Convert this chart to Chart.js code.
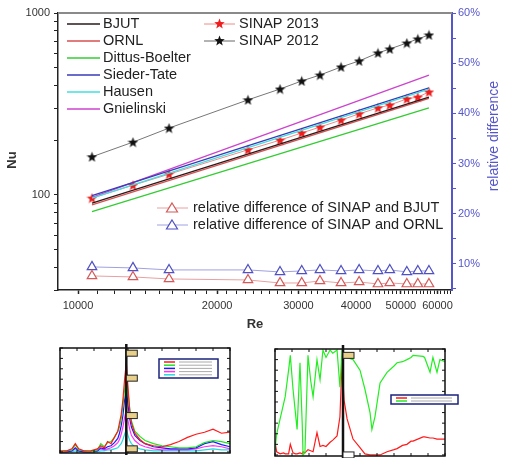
<!DOCTYPE html>
<html>
<head>
<meta charset="utf-8">
<script src="https://cdn.jsdelivr.net/npm/chart.js@4.4.1/dist/chart.umd.min.js"></script>
<style>
  body { margin: 0; background: #fff; }
  .box { position: absolute; }
</style>
</head>
<body>
<div class="box" style="left:0;top:0;width:510px;height:335px"><canvas id="main"></canvas></div>
<div class="box" style="left:40px;top:338px;width:210px;height:120px"><canvas id="inset1"></canvas></div>
<div class="box" style="left:260px;top:338px;width:210px;height:120px"><canvas id="inset2"></canvas></div>
<script>
// Reynolds numbers of the measured points
const re = [10720, 13150, 15740, 23330, 27370, 30500, 33400, 37100, 40600, 44600, 47300, 51500, 54400, 57500];
const sinap2013 = [96, 113, 130, 177, 200, 219, 236, 258, 279, 301, 312, 337, 345, 368];
const sinap2012 = [162, 195, 233, 333, 382, 423, 456, 505, 545, 603, 634, 684, 720, 757];
// correlations, value at first and last Re
const lineRe = [10720, 57500];
const bjut = [90, 345];
const ornl = [88, 339];
const dittus = [81, 301];
const sieder = [99, 387];
const hausen = [96, 382];
const gniel = [97, 456];
// relative differences (%)
const diffBjut = [7.6, 7.4, 7.0, 6.8, 6.2, 6.2, 6.6, 6.2, 6.4, 6.0, 6.2, 6.0, 6.0, 6.0];
const diffOrnl = [9.4, 9.2, 8.8, 8.8, 8.4, 8.6, 8.8, 8.6, 8.8, 8.6, 8.8, 8.4, 8.6, 8.6];
const nuTicks = [30, 40, 50, 60, 70, 80, 90, 100, 200, 300, 400, 500, 600, 700, 800, 900, 1000];
const nuLabels = [100, 1000];
const reLabels = [10000, 20000, 30000, 40000, 50000, 60000];
const pctLabels = [10, 20, 30, 40, 50, 60];

// small thumbnails under the main chart
const ix1 = [0, 4, 7, 9, 11, 14, 18, 22, 24, 26, 28, 30, 32, 34, 35, 36, 37, 38, 39, 40, 41, 42, 44, 47, 50, 55, 60, 65, 70, 75, 80, 85, 90, 95, 100];
const s1Red = [1, 1, 3, 8, 3, 1, 1, 3, 6, 4, 10, 8, 14, 20, 28, 36, 50, 70, 86, 62, 40, 28, 18, 12, 8, 6, 5, 7, 10, 14, 17, 19, 22, 18, 19];
const s1Green = [0, 1, 2, 7, 2, 1, 0, 2, 8, 5, 9, 10, 14, 20, 24, 32, 45, 60, 77, 58, 42, 30, 20, 15, 11, 8, 6, 5, 4, 4, 5, 9, 11, 10, 8];
const s1Blue = [0, 0, 1, 4, 1, 0, 0, 1, 4, 3, 5, 6, 9, 13, 18, 25, 35, 50, 60, 45, 32, 24, 16, 11, 8, 5, 4, 3, 3, 3, 4, 8, 10, 7, 5];
const s1Magenta = [0, 0, 1, 3, 1, 0, 0, 1, 3, 2, 3, 4, 6, 9, 12, 17, 24, 33, 41, 30, 22, 16, 11, 7, 5, 3, 2, 2, 2, 2, 3, 5, 6, 5, 3];
const s1Cyan = [0, 0, 0, 1, 0, 0, 0, 0, 1, 1, 2, 2, 3, 4, 6, 8, 12, 17, 22, 16, 11, 8, 5, 3, 2, 1, 1, 1, 1, 1, 1, 2, 3, 2, 2];
const ix2 = [0, 1, 3, 5, 6, 8, 9, 10.6, 12, 13, 14.7, 16, 16.5, 17.6, 19.4, 21, 22.4, 24.7, 26.5, 28.2, 30, 32.4, 34, 36.5, 38.2, 39.4, 40, 40.6, 42.4, 45.9, 50, 52.9, 55.9, 57, 58.8, 61.8, 65.9, 70, 71.8, 75, 77.6, 80, 81.2, 87.1, 88, 91.2, 92.9, 95.3, 97, 100];
const s2Green = [5, 20, 34, 48, 55, 80, 94, 62, 40, 24, 87, 30, 0, 2, 94, 70, 55, 90, 71, 99, 92, 99, 96, 99, 64, 99, 99, 96, 92, 90, 80, 62, 40, 24, 36, 68, 78, 84, 87, 88, 90, 92, 94, 93, 92, 78, 92, 78, 90, 88];
const s2Red = [12, 3, 1, 2, 1, 1, 10, 2, 1, 1, 2, 1, 3, 2, 5, 4, 3, 21, 8, 9, 8, 12, 14, 18, 36, 87, 70, 52, 34, 15, 7, 1, 0, 0, 0, 0, 3, 5, 6, 9, 10, 13, 13, 17, 17, 16, 16, 15, 15, 15];

function starImage(color, size) {
  const c = document.createElement('canvas');
  c.width = size; c.height = size;
  const g = c.getContext('2d');
  g.fillStyle = color;
  g.beginPath();
  for (let i = 0; i < 10; i++) {
    const r = i % 2 ? size * 0.21 : size * 0.5;
    const a = -Math.PI / 2 + i * Math.PI / 5;
    g.lineTo(size / 2 + r * Math.cos(a), size * 0.54 + r * Math.sin(a));
  }
  g.closePath();
  g.fill();
  return c;
}
const redStar = starImage('#ee1c1c', 11);
const blackStar = starImage('#111', 11);

const pts = (xs, ys) => xs.map((x, i) => ({ x: x, y: ys[i] }));
const BLUE = '#5656cc';
const LEG_FONT = '14.5px "Liberation Sans", Arial, sans-serif';

function corr(label, data, color) {
  return { label: label, data: pts(lineRe, data), borderColor: color, borderWidth: 1.3, pointRadius: 0, yAxisID: 'y' };
}

const legendPlugin = {
  id: 'legendAndTitles',
  afterDraw(chart) {
    const c = chart.ctx;
    const a = chart.chartArea;
    c.save();
    // top frame line
    c.strokeStyle = '#8a8a8a';
    c.lineWidth = 2;
    c.beginPath(); c.moveTo(a.left, a.top); c.lineTo(a.right, a.top); c.stroke();

    c.font = LEG_FONT;
    c.textBaseline = 'middle';
    const col1 = [['BJUT', '#2a1a1a'], ['ORNL', '#d95050'], ['Dittus-Boelter', '#33cc33'], ['Sieder-Tate', '#3a3ab8'], ['Hausen', '#44dede'], ['Gnielinski', '#cc44cc']];
    col1.forEach((r, i) => {
      const y = 24 + i * 17;
      c.strokeStyle = r[1]; c.lineWidth = 1.5;
      c.beginPath(); c.moveTo(67, y); c.lineTo(100, y); c.stroke();
      c.fillStyle = '#222';
      c.fillText(r[0], 103, y);
    });
    const col2 = [['SINAP 2013', '#f08a8a', redStar], ['SINAP 2012', '#666', blackStar]];
    col2.forEach((r, i) => {
      const y = 24 + i * 17;
      c.strokeStyle = r[1]; c.lineWidth = 1;
      c.beginPath(); c.moveTo(204, y); c.lineTo(235, y); c.stroke();
      c.drawImage(r[2], 219.5 - 5.5, y - 6);
      c.fillStyle = '#222';
      c.fillText(r[0], 239, y);
    });
    const col3 = [['relative difference of SINAP and BJUT', '#e8a0a0', '#d45a5a'], ['relative difference of SINAP and ORNL', '#a0a0e0', '#5050c4']];
    col3.forEach((r, i) => {
      const y = 208 + i * 17;
      c.strokeStyle = r[1]; c.lineWidth = 1;
      c.beginPath(); c.moveTo(157, y); c.lineTo(188, y); c.stroke();
      c.strokeStyle = r[2]; c.fillStyle = '#fff'; c.lineWidth = 1.2;
      c.beginPath(); c.moveTo(172, y - 5); c.lineTo(177.5, y + 4); c.lineTo(166.5, y + 4); c.closePath();
      c.fill(); c.stroke();
      c.fillStyle = '#222';
      c.fillText(r[0], 193, y);
    });

    // axis titles
    c.font = 'bold 13px "Liberation Sans", Arial, sans-serif';
    c.fillStyle = '#333';
    c.textAlign = 'center';
    c.fillText('Re', 255, 324);
    c.save(); c.translate(12, 160); c.rotate(-Math.PI / 2); c.fillText('Nu', 0, 0); c.restore();
    c.font = '14px "Liberation Sans", Arial, sans-serif';
    c.fillStyle = BLUE;
    c.save(); c.translate(494, 136); c.rotate(-Math.PI / 2); c.fillText('relative difference', 0, 0); c.restore();
    c.restore();
  }
};

new Chart(document.getElementById('main'), {
  type: 'line',
  data: {
    datasets: [
      corr('BJUT', bjut, '#2a1a1a'),
      corr('ORNL', ornl, '#d95050'),
      corr('Dittus-Boelter', dittus, '#33cc33'),
      corr('Hausen', hausen, '#44dede'),
      corr('Sieder-Tate', sieder, '#3a3ab8'),
      corr('Gnielinski', gniel, '#cc44cc'),
      { label: 'SINAP 2013', data: pts(re, sinap2013), borderColor: '#f08a8a', borderWidth: 1, pointStyle: redStar, pointRadius: 5, yAxisID: 'y' },
      { label: 'SINAP 2012', data: pts(re, sinap2012), borderColor: '#777', borderWidth: 1, pointStyle: blackStar, pointRadius: 5, yAxisID: 'y' },
      { label: 'relative difference of SINAP and BJUT', data: pts(re, diffBjut), borderColor: '#e8a0a0', borderWidth: 1, pointStyle: 'triangle', pointRadius: 5.5, pointBorderColor: '#d45a5a', pointBackgroundColor: '#fff', pointBorderWidth: 1.2, yAxisID: 'y2' },
      { label: 'relative difference of SINAP and ORNL', data: pts(re, diffOrnl), borderColor: '#a0a0e0', borderWidth: 1, pointStyle: 'triangle', pointRadius: 5.5, pointBorderColor: '#5050c4', pointBackgroundColor: '#fff', pointBorderWidth: 1.2, yAxisID: 'y2' }
    ]
  },
  options: {
    responsive: true,
    maintainAspectRatio: false,
    animation: false,
    layout: { padding: { top: 13, left: 0, right: 0, bottom: 0 } },
    plugins: { legend: { display: false }, tooltip: { enabled: false } },
    scales: {
      x: {
        type: 'logarithmic', min: 9050, max: 64500,
        afterBuildTicks: s => { const t = []; for (let v = 10000; v <= 64000; v += 1000) t.push({ value: v }); s.ticks = t; },
        afterFit: s => { s.height = 45; },
        grid: { drawOnChartArea: false, tickLength: 4, tickColor: '#222', tickWidth: c => reLabels.includes(c.tick && c.tick.value) ? 1.5 : 1 },
        border: { color: '#222', width: 1.5 },
        ticks: { autoSkip: false, maxRotation: 0, padding: 5, color: '#333', font: { size: 11, family: '"Liberation Sans", Arial, sans-serif' },
          callback: v => reLabels.includes(v) ? String(v) : '' }
      },
      y: {
        type: 'logarithmic', position: 'left', min: 30, max: 1000,
        afterBuildTicks: s => { s.ticks = nuTicks.map(v => ({ value: v })); },
        afterFit: s => { s.width = 58; },
        grid: { drawOnChartArea: false, tickLength: 4, tickColor: '#222' },
        border: { color: '#222', width: 1.5 },
        ticks: { autoSkip: false, padding: 4, color: '#333', font: { size: 11, family: '"Liberation Sans", Arial, sans-serif' },
          callback: v => nuLabels.includes(v) ? String(v) : '' }
      },
      y2: {
        type: 'linear', position: 'right', min: 4.8, max: 60,
        afterBuildTicks: s => { const t = []; for (let v = 5; v <= 60; v += 5) t.push({ value: v }); s.ticks = t; },
        afterFit: s => { s.width = 58; },
        grid: { drawOnChartArea: false, tickLength: 4, tickColor: BLUE },
        border: { color: BLUE, width: 2 },
        ticks: { autoSkip: false, padding: 2, color: BLUE, font: { size: 11, family: '"Liberation Sans", Arial, sans-serif' },
          callback: v => pctLabels.includes(v) ? v + '%' : '' }
      }
    }
  },
  plugins: [legendPlugin]
});

// frame, ticks, marker line and legend box of a thumbnail
function thumbPlugin(markX, boxes, legend) {
  return {
    id: 'thumb',
    afterDraw(chart) {
      const c = chart.ctx, a = chart.chartArea;
      const xs = chart.scales.x, ys = chart.scales.y;
      c.save();
      c.strokeStyle = '#111'; c.lineWidth = 1.5;
      c.strokeRect(a.left, a.top, a.right - a.left, a.bottom - a.top);
      c.lineWidth = 1;
      for (let v = 0; v <= 100; v += 10) {
        const py = ys.getPixelForValue(v), px = xs.getPixelForValue(v);
        c.beginPath();
        c.moveTo(a.left, py); c.lineTo(a.left + 3, py);
        c.moveTo(a.right, py); c.lineTo(a.right - 3, py);
        c.moveTo(px, a.bottom); c.lineTo(px, a.bottom - 3);
        c.moveTo(px, a.top); c.lineTo(px, a.top + 3);
        c.stroke();
      }
      const mx = xs.getPixelForValue(markX);
      c.lineWidth = 2.5;
      c.beginPath(); c.moveTo(mx, a.top - 4); c.lineTo(mx, a.bottom + 2); c.stroke();
      boxes.forEach(b => {
        const py = ys.getPixelForValue(b[0]);
        c.fillStyle = b[1]; c.strokeStyle = '#222'; c.lineWidth = 1;
        c.fillRect(mx, py - 3, 11, 6); c.strokeRect(mx, py - 3, 11, 6);
      });
      const L = legend;
      c.fillStyle = '#fff'; c.fillRect(L.x, L.y, L.w, L.h);
      c.strokeStyle = '#1a237e'; c.lineWidth = 1.5; c.strokeRect(L.x, L.y, L.w, L.h);
      L.colors.forEach((col, i) => {
        const y = L.y + 3 + i * L.step;
        c.strokeStyle = col; c.lineWidth = 1.5;
        c.beginPath(); c.moveTo(L.x + 5, y); c.lineTo(L.x + 16, y); c.stroke();
        c.strokeStyle = '#aaa'; c.lineWidth = 1;
        c.beginPath(); c.moveTo(L.x + 20, y); c.lineTo(L.x + L.w - 6, y); c.stroke();
      });
      c.restore();
    }
  };
}

function thumbOptions(pad) {
  return {
    responsive: true, maintainAspectRatio: false, animation: false,
    layout: { padding: pad },
    plugins: { legend: { display: false }, tooltip: { enabled: false } },
    scales: {
      x: { type: 'linear', min: 0, max: 100, display: false },
      y: { type: 'linear', min: -1, max: 100, display: false }
    }
  };
}
const thin = (label, xs, ys, color) => ({ label: label, data: pts(xs, ys), borderColor: color, borderWidth: 1.2, pointRadius: 0 });

new Chart(document.getElementById('inset1'), {
  type: 'line',
  data: { datasets: [
    thin('red', ix1, s1Red, '#ff1a1a'),
    thin('green', ix1, s1Green, '#1ee61e'),
    thin('blue', ix1, s1Blue, '#1a1aff'),
    thin('magenta', ix1, s1Magenta, '#ff33ff'),
    thin('cyan', ix1, s1Cyan, '#22dddd')
  ] },
  options: thumbOptions({ left: 20, right: 20, top: 10, bottom: 5 }),
  plugins: [thumbPlugin(39, [[95, '#e8cf8a'], [71, '#e8cf8a'], [35, '#e8cf8a'], [3, '#e8cf8a']],
    { x: 119, y: 21, w: 59, h: 19, step: 3.2, colors: ['#ff1a1a', '#1ee61e', '#1a1aff', '#ff33ff', '#22dddd'] })]
});

new Chart(document.getElementById('inset2'), {
  type: 'line',
  data: { datasets: [
    thin('green', ix2, s2Green, '#22ee22'),
    thin('red', ix2, s2Red, '#ff1a1a')
  ] },
  options: thumbOptions({ left: 15, right: 25, top: 11, bottom: 2 }),
  plugins: [thumbPlugin(40, [[94, '#e8cf8a'], [0, '#ffffff']],
    { x: 131, y: 57, w: 67, h: 9, step: 3, colors: ['#ff1a1a', '#22ee22'] })]
});
</script>
</body>
</html>
